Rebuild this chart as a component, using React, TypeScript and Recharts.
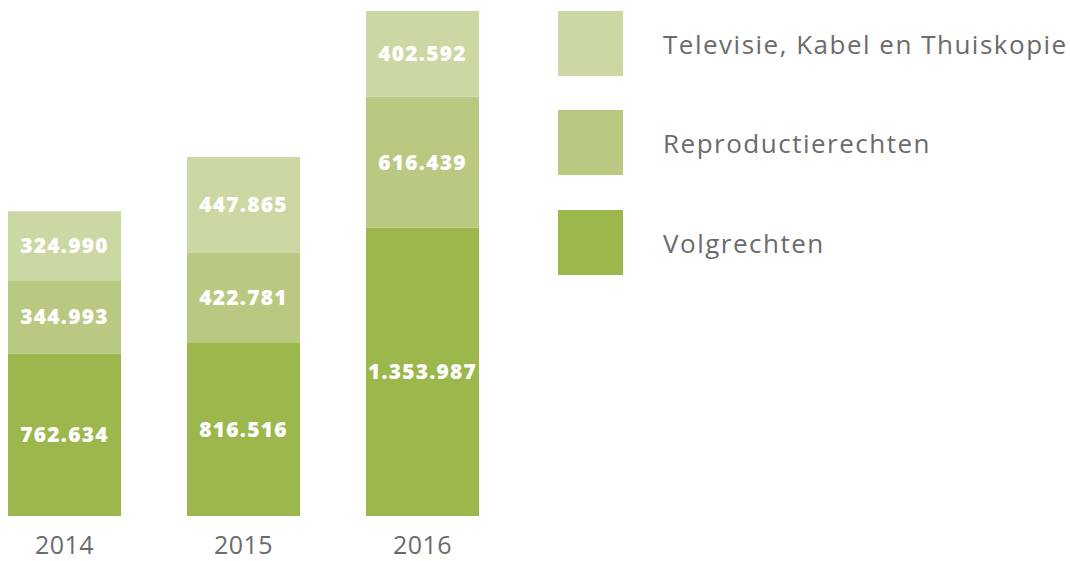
import { BarChart, Bar, XAxis, YAxis, LabelList } from "recharts"

const years = ["2014", "2015", "2016"]
const volgrechten = [762634, 816516, 1353987]
const reproductierechten = [344993, 422781, 616439]
const televisie = [324990, 447865, 402592]

const series = [
  { key: "tv", name: "Televisie, Kabel en Thuiskopie", values: televisie, color: "#cbd8a3" },
  { key: "repro", name: "Reproductierechten", values: reproductierechten, color: "#b9c982" },
  { key: "volg", name: "Volgrechten", values: volgrechten, color: "#9cb74c" },
]

const data = years.map((year, i) => ({
  year,
  volg: volgrechten[i],
  repro: reproductierechten[i],
  tv: televisie[i],
}))

const fmt = (v: unknown) => String(v).replace(/\B(?=(\d{3})+(?!\d))/g, ".")

const FONT = "'Open Sans', sans-serif"

function YearTick({ x, y, payload }: any) {
  return (
    <text
      x={x}
      y={y + 36}
      textAnchor="middle"
      fill="#6b6b6b"
      fontSize={25}
      fontFamily={FONT}
      letterSpacing={0.5}
    >
      {payload.value}
    </text>
  )
}

// stacking order bottom -> top
const stack = [...series].reverse()

export default function App() {
  return (
    <div style={{ position: "absolute", left: 0, top: 0, width: 1070, height: 561, background: "#fff" }}>
      <div style={{ position: "absolute", left: -25, top: 0 }}>
        <BarChart
          width={545}
          height={561}
          data={data}
          margin={{ top: 11, right: 8, bottom: 0, left: 0 }}
          barCategoryGap={33}
        >
          <XAxis
            dataKey="year"
            axisLine={false}
            tickLine={false}
            tickSize={0}
            height={45}
            tick={<YearTick />}
          />
          <YAxis hide domain={[0, "dataMax"]} />
          {stack.map((s) => (
            <Bar key={s.key} dataKey={s.key} stackId="a" fill={s.color} isAnimationActive={false}>
              <LabelList
                dataKey={s.key}
                position="center"
                formatter={fmt}
                fill="#ffffff"
                fontSize={21}
                fontWeight={800}
                fontFamily={FONT}
                letterSpacing={1.2}
              />
            </Bar>
          ))}
        </BarChart>
      </div>
      {series.map((s, i) => (
        <div key={s.key} style={{ position: "absolute", left: 558, top: [11, 110, 210][i], height: 65, display: "flex", alignItems: "center" }}>
          <div style={{ width: 65, height: 65, background: s.color }} />
          <span
            style={{
              marginLeft: 40,
              marginTop: 1,
              fontFamily: FONT,
              fontSize: 26,
              color: "#6b6b6b",
              letterSpacing: 1.5,
              whiteSpace: "nowrap",
            }}
          >
            {s.name}
          </span>
        </div>
      ))}
    </div>
  )
}
